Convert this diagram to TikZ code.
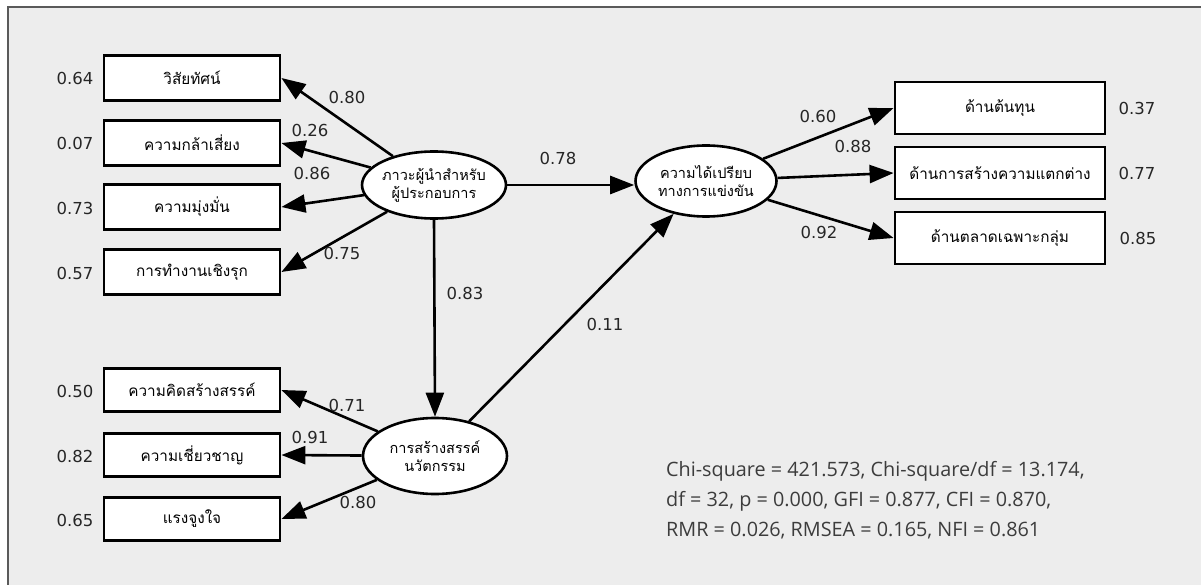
\documentclass[tikz,border=0pt]{standalone}
\usepackage{fontspec}
\setmainfont{DejaVu Sans}
\newfontfamily\thaifont[Script=Thai]{Loma}
\newfontfamily\fitfont{Open Sans}
\usetikzlibrary{arrows.meta,shapes.geometric}
\definecolor{bggray}{HTML}{EDEDED}
\definecolor{framegray}{HTML}{5A5A5A}
\definecolor{fittext}{HTML}{3C3C3C}
\begin{document}
\begin{tikzpicture}[x=1pt,y=-1pt,
 obs/.style={draw,line width=2.8pt,fill=white,minimum width=176pt,minimum height=45pt,inner sep=0pt,font=\thaifont\fontsize{15.3}{17}\selectfont},
 obsr/.style={obs,minimum width=210pt,minimum height=52pt},
 lat/.style={draw,ellipse,line width=2.6pt,fill=white,inner xsep=-12pt,inner ysep=0pt,align=center,font=\thaifont\fontsize{14.5}{18}\selectfont},
 num/.style={font=\fontsize{16.5}{19}\selectfont,text=black!85},
 sem/.style={line width=2.6pt,-{Triangle[length=24pt,width=18pt]}}
]
\useasboundingbox (0,0) rectangle (1201,585);
\fill[white] (0,0) rectangle (1201,585);
\fill[bggray] (8,7) rectangle (1201,585);
\draw[framegray,line width=1.5pt] (8,585) -- (8,7) -- (1201,7);

% latent variables
\node[lat,minimum width=144pt,minimum height=67pt] (e1) at (434,185) {ภาวะผู้นำสำหรับ\\ผู้ประกอบการ};
\node[lat,minimum width=141pt,minimum height=71pt] (e2) at (706,181) {ความได้เปรียบ\\ทางการแข่งขัน};
\node[lat,minimum width=144pt,minimum height=76pt] (e3) at (435,456) {การสร้างสรรค์\\นวัตกรรม};

% left upper indicators
\node[obs] (a1) at (192,78) {วิสัยทัศน์};
\node[obs] (a2) at (192,143) {ความกล้าเสี่ยง};
\node[obs] (a3) at (192,207) {ความมุ่งมั่น};
\node[obs] (a4) at (192,272) {การทำงานเชิงรุก};
% left lower indicators
\node[obs,minimum height=43pt] (b1) at (192,390) {ความคิดสร้างสรรค์};
\node[obs,minimum height=43pt] (b2) at (192,455) {ความเชี่ยวชาญ};
\node[obs,minimum height=43pt] (b3) at (192,519) {แรงจูงใจ};
% right indicators
\node[obsr] (c1) at (1000,108) {ด้านต้นทุน};
\node[obsr] (c2) at (1000,173) {ด้านการสร้างความแตกต่าง};
\node[obsr] (c3) at (1000,238) {ด้านตลาดเฉพาะกลุ่ม};

% error values
\node[num] (ra1) at (75,78) {0.64};
\node[num] (ra2) at (75,143) {0.07};
\node[num] (ra3) at (75,208) {0.73};
\node[num] (ra4) at (75,273) {0.57};
\node[num] (rb1) at (75,391) {0.50};
\node[num] (rb2) at (75,456) {0.82};
\node[num] (rb3) at (75,520) {0.65};
\node[num] (rc1) at (1137,108) {0.37};
\node[num] (rc2) at (1137,173) {0.77};
\node[num] (rc3) at (1138,238) {0.85};

% loadings
\draw[sem] (e1) -- (a1.east);
\draw[sem] (e1) -- (a2.east);
\draw[sem] (e1) -- (a3.east);
\draw[sem] (e1) -- (a4.east);
\draw[sem] (e3) -- (b1.east);
\draw[sem] (e3) -- (b2.east);
\draw[sem] (e3) -- (b3.east);
\draw[sem] (e2) -- (c1.west);
\draw[sem] (e2) -- (c2.west);
\draw[sem] (e2) -- (c3.west);
% structural paths
\draw[sem] (e1.east) -- (e2.west |- e1.east);
\draw[sem] (e1.south) -- (e3.north);
\draw[sem] (e3) -- (e2);

% path labels
\node[num] (la1) at (347,97) {0.80};
\node[num] (la2) at (310,130) {0.26};
\node[num] (la3) at (312,173) {0.86};
\node[num] (la4) at (342,253) {0.75};
\node[num] (lb1) at (347,405) {0.71};
\node[num] (lb2) at (310,437) {0.91};
\node[num] (lb3) at (358,502) {0.80};
\node[num] (lc1) at (818,116) {0.60};
\node[num] (lc2) at (853,146) {0.88};
\node[num] (lc3) at (819,232) {0.92};
\node[num] (l12) at (558,158) {0.78};
\node[num] (l13) at (465,293) {0.83};
\node[num] (l32) at (605,324) {0.11};

% fit indices
\node[anchor=west,align=left,text=fittext,inner sep=0pt,font=\fitfont\fontsize{19.8}{30}\selectfont] (fit) at (666,500)
 {Chi-square = 421.573, Chi-square/df = 13.174,\\df = 32, p = 0.000, GFI = 0.877, CFI = 0.870,\\RMR = 0.026, RMSEA = 0.165, NFI = 0.861};
\end{tikzpicture}
\end{document}
